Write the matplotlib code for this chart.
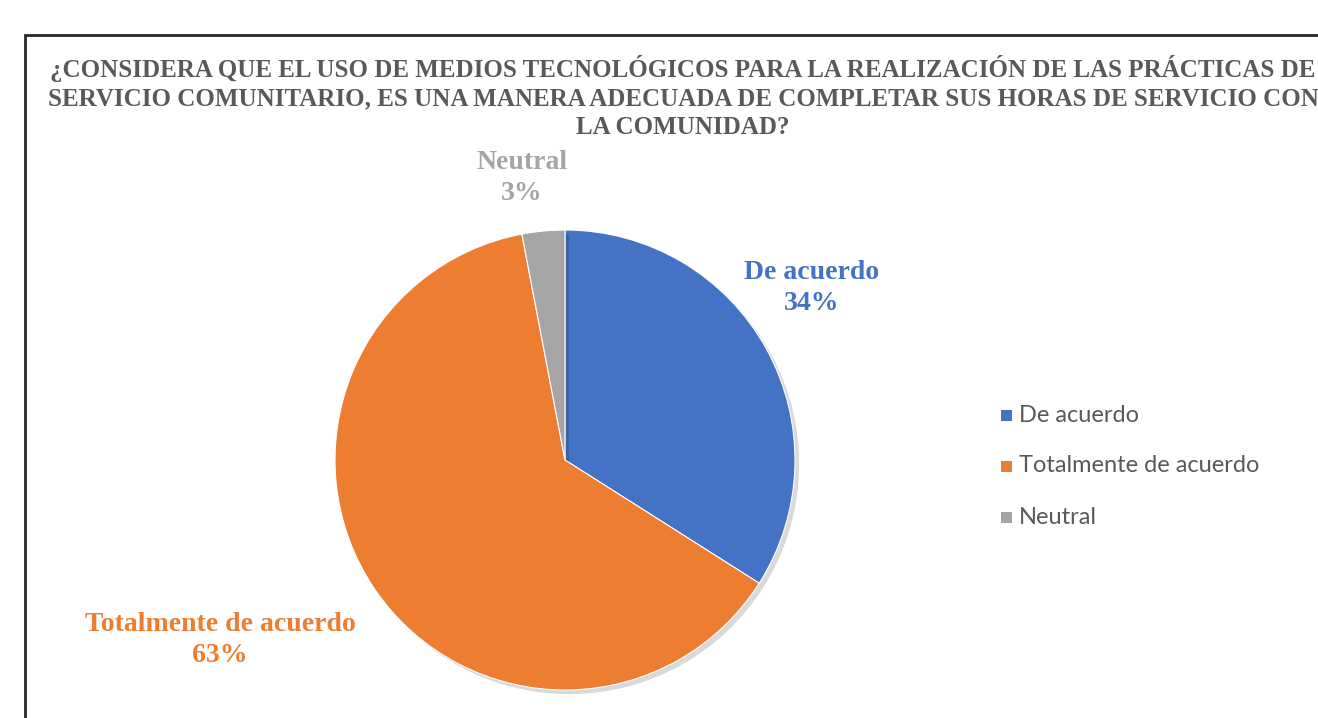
import matplotlib
matplotlib.use("Agg")
import matplotlib.pyplot as plt
import matplotlib.patheffects as pe
from matplotlib.patches import Rectangle

# ── Data ─────────────────────────────────────────────────────────────────────
categories = ["De acuerdo", "Totalmente de acuerdo", "Neutral"]
values     = [34, 63, 3]
colors     = ["#4472C4", "#ED7D31", "#A5A5A5"]
label_colors = ["#4472C4", "#ED7D31", "#A5A5A5"]
title = ("¿CONSIDERA QUE EL USO DE MEDIOS TECNOLÓGICOS PARA LA REALIZACIÓN DE LAS PRÁCTICAS DE\n"
         "SERVICIO COMUNITARIO, ES UNA MANERA ADECUADA DE COMPLETAR SUS HORAS DE SERVICIO CON\n"
         "LA COMUNIDAD?")
# ─────────────────────────────────────────────────────────────────────────────

W, H = 1318, 718
fig = plt.figure(figsize=(W / 100, H / 100), dpi=100)
fig.patch.set_facecolor("white")

# chart frame (runs off the right/bottom edge)
fig.patches.append(Rectangle((25 / W, -0.1), 1.2, 1 - 35 / H + 0.1,
                             transform=fig.transFigure, fill=False,
                             edgecolor="#262626", lw=2))

# title is wider than the visible area, as in the original
fig.text(683 / W, 1 - 97 / H, title, ha="center", va="center",
         family="Liberation Serif", weight="bold", fontsize=18,
         color="#595959", linespacing=1.33)

# pie axes: centre (565, 460), radius 230 px
cx, cy, r = 565, 460, 230
ax = fig.add_axes([(cx - r) / W, 1 - (cy + r) / H, 2 * r / W, 2 * r / H])
wedges, _ = ax.pie(values, colors=colors, startangle=90, counterclock=False,
                   radius=1.0, wedgeprops=dict(edgecolor="white", linewidth=0.8))
for w in wedges:
    w.set_path_effects([pe.SimplePatchShadow(offset=(3, -3), alpha=0.15,
                                             shadow_rgbFace="black"),
                        pe.Normal()])
ax.set_xlim(-1, 1)
ax.set_ylim(-1, 1)
ax.set_aspect("equal")
ax.axis("off")

# data labels (pixel positions of the label centres)
label_pos = [(812, 288), (220, 640), (522, 178)]
for cat, val, col, (px, py) in zip(categories, values, label_colors, label_pos):
    fig.text(px / W, 1 - py / H, f"{cat}\n{val}%", ha="center", va="center",
             family="Liberation Serif", weight="bold", fontsize=20,
             color=col, linespacing=1.3)

# legend
leg_y = [415, 466, 517]
for cat, col, py in zip(categories, colors, leg_y):
    fig.patches.append(Rectangle((1001 / W, 1 - (py + 6) / H), 11 / W, 11 / H,
                                 transform=fig.transFigure, facecolor=col,
                                 edgecolor="none"))
    fig.text(1019 / W, 1 - py / H, cat, ha="left", va="center",
             family="Lato", fontsize=17, color="#595959")

fig.savefig("out.png", dpi=100)
